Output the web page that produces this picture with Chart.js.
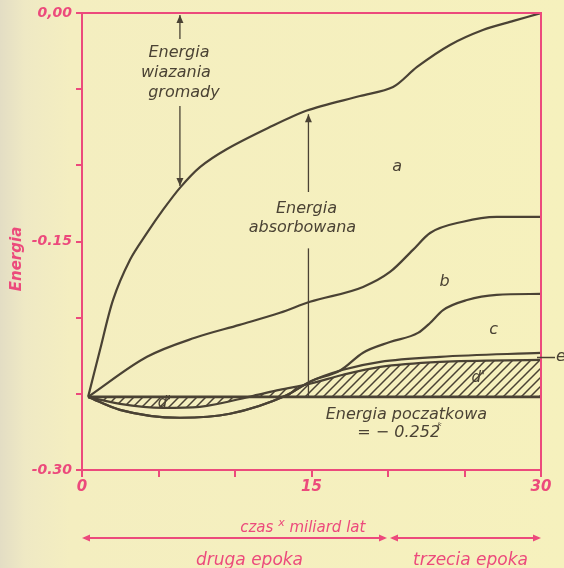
<!DOCTYPE html>
<html>
<head>
<meta charset="utf-8">
<script src="https://cdn.jsdelivr.net/npm/chart.js@4.4.1/dist/chart.umd.min.js"></script>
<style>
  html, body { margin: 0; padding: 0; }
  body {
    width: 564px; height: 568px; overflow: hidden;
    background: linear-gradient(to right, #e3ddc4 0px, #efe9c4 25px, #f4eec0 70px, #f6f1bd 100%);
  }
  #wrap { position: relative; width: 564px; height: 568px; }
</style>
</head>
<body>
<div id="wrap"><canvas id="chart" width="564" height="568"></canvas></div>
<script>
// Wartości (czas w mld lat, energia)
const timeA = [0.4, 1.18, 2.03, 3.14, 4.25, 5.29, 6.4, 7.71, 9.48, 12.16, 14.7, 18.17, 20.33, 21.9, 24.05, 26.2, 28.2, 30];
const energyA = [-0.252, -0.2211, -0.1883, -0.162, -0.1444, -0.1293, -0.1148, -0.1012, -0.0893, -0.0755, -0.0640, -0.0545, -0.0486, -0.0354, -0.021, -0.0112, -0.0052, 0];

const timeB = [0.4, 4.25, 7.38, 10.3, 12.94, 14.9, 18.37, 20.13, 21.63, 22.75, 24.9, 27.1, 30];
const energyB = [-0.252, -0.2257, -0.2132, -0.2047, -0.1968, -0.1896, -0.1798, -0.170, -0.1555, -0.1444, -0.137, -0.1339, -0.1339];

const timeC = [0.4, 2.48, 6.4, 9.67, 13.3, 14.9, 16.9, 18.37, 20.13, 21.96, 22.75, 23.6, 25.16, 27.1, 30];
const energyC = [-0.252, -0.2605, -0.2657, -0.2631, -0.2513, -0.242, -0.2345, -0.223, -0.216, -0.210, -0.2035, -0.195, -0.1884, -0.185, -0.1844];

const timeD = [0.4, 2.48, 5.3, 7.7, 11.2, 12.9, 14.9, 17.06, 19.5, 23.4, 30];
const energyD = [-0.252, -0.2566, -0.2592, -0.2585, -0.2513, -0.2474, -0.2434, -0.2375, -0.2323, -0.229, -0.2277];

const timeE = [0.4, 2.48, 6.4, 9.67, 13.3, 14.9, 17.06, 19.5, 23.4, 30];
const energyE = [-0.252, -0.2605, -0.2657, -0.2631, -0.2513, -0.242, -0.2342, -0.229, -0.2257, -0.2231];

const timeBase = [0.4, 30];
const energyBase = [-0.252, -0.252];

const xTickValues = [0, 15, 30];
const xTickLabels = ['0', '15', '30'];
const yTickValues = [0, -0.15, -0.30];
const yTickLabels = ['0,00', '-0.15', '-0.30'];

const epochBounds = [0, 20, 30];
const epochNames = ['druga epoka', 'trzecia epoka'];

const PINK = '#ec4a7c';
const INK = '#4a4234';
const FONT = 'DejaVu Sans';

function toPoints(xs, ys) {
  return xs.map((x, i) => ({ x: x, y: ys[i] }));
}

function labelFor(values, labels, v) {
  const i = values.findIndex(t => Math.abs(t - v) < 1e-6);
  return i >= 0 ? labels[i] : '';
}

// kreskowanie obszaru d'
function makeHatch() {
  const n = 9;
  const c = document.createElement('canvas');
  c.width = n; c.height = n;
  const g = c.getContext('2d');
  g.strokeStyle = INK;
  g.lineWidth = 1.5;
  g.beginPath();
  g.moveTo(0, n); g.lineTo(n, 0);
  g.moveTo(-1, 1); g.lineTo(1, -1);
  g.moveTo(n - 1, n + 1); g.lineTo(n + 1, n - 1);
  g.stroke();
  return g.createPattern(c, 'repeat');
}

function arrowHead(ctx, x, y, dir, color) {
  const L = 8, W = 3.5;
  ctx.save();
  ctx.fillStyle = color;
  ctx.beginPath();
  ctx.moveTo(x, y);
  if (dir === 'up') { ctx.lineTo(x - W, y + L); ctx.lineTo(x + W, y + L); }
  if (dir === 'down') { ctx.lineTo(x - W, y - L); ctx.lineTo(x + W, y - L); }
  if (dir === 'left') { ctx.lineTo(x + L, y - W); ctx.lineTo(x + L, y + W); }
  if (dir === 'right') { ctx.lineTo(x - L, y - W); ctx.lineTo(x - L, y + W); }
  ctx.closePath();
  ctx.fill();
  ctx.restore();
}

function vline(ctx, x, y1, y2, color, w) {
  ctx.save();
  ctx.strokeStyle = color;
  ctx.lineWidth = w;
  ctx.beginPath();
  ctx.moveTo(x, y1);
  ctx.lineTo(x, y2);
  ctx.stroke();
  ctx.restore();
}

function text(ctx, str, x, y, size, color, align, weight) {
  ctx.save();
  ctx.font = 'italic ' + (weight || 'normal') + ' ' + size + 'px "' + FONT + '"';
  ctx.fillStyle = color;
  ctx.textAlign = align || 'center';
  ctx.textBaseline = 'middle';
  ctx.fillText(str, x, y);
  ctx.restore();
}

const annotations = {
  id: 'annotations',
  afterDatasetsDraw(chart) {
    const ctx = chart.ctx;
    const area = chart.chartArea;
    const xs = chart.scales.x, ys = chart.scales.y;
    const px = v => xs.getPixelForValue(v);
    const py = v => ys.getPixelForValue(v);

    // ramka wykresu
    ctx.save();
    ctx.strokeStyle = PINK;
    ctx.lineWidth = 2;
    ctx.beginPath();
    ctx.moveTo(area.left, area.top);
    ctx.lineTo(area.right, area.top);
    ctx.lineTo(area.right, area.bottom);
    ctx.stroke();
    ctx.restore();

    // strzałka: energia wiązania gromady
    const xw = px(6.4);
    vline(ctx, xw, py(0) + 2, py(0) + 26, INK, 1.3);
    vline(ctx, xw, py(0) + 93, py(-0.1148) - 2, INK, 1.3);
    arrowHead(ctx, xw, py(0) + 2, 'up', INK);
    arrowHead(ctx, xw, py(-0.1148) - 2, 'down', INK);
    text(ctx, 'Energia', xw - 1, 53, 16, INK);
    text(ctx, 'wiazania', xw - 4, 73, 16, INK);
    text(ctx, 'gromady', xw + 4, 93, 16, INK);

    // strzałka: energia absorbowana
    const xa = px(14.8);
    vline(ctx, xa, py(-0.0645) + 3, py(-0.1175), INK, 1.3);
    vline(ctx, xa, py(-0.1545), py(-0.252), INK, 1.3);
    arrowHead(ctx, xa, py(-0.0645) + 3, 'up', INK);
    text(ctx, 'Energia', xa - 2, 209, 16, INK);
    text(ctx, 'absorbowana', xa - 6, 228, 16, INK);

    // oznaczenia krzywych
    text(ctx, 'a', px(20.6), py(-0.101), 16, INK);
    text(ctx, 'b', px(23.7), py(-0.1765), 16, INK);
    text(ctx, 'c', px(26.9), py(-0.208), 16, INK);
    text(ctx, "d'", px(5.4), py(-0.256), 15, INK);
    text(ctx, "d'", px(25.9), py(-0.2396), 15, INK);
    ctx.save();
    ctx.strokeStyle = INK;
    ctx.lineWidth = 1.5;
    ctx.beginPath();
    ctx.moveTo(area.right - 4, py(-0.2255) + 1);
    ctx.lineTo(area.right + 14, py(-0.2255) + 1);
    ctx.stroke();
    ctx.restore();
    text(ctx, 'e', area.right + 15, py(-0.2255), 16, INK, 'left');

    text(ctx, 'Energia poczatkowa', px(21.2), py(-0.2635), 16, INK);
    text(ctx, '= \u2212 0.252', px(20.7), 433, 16, INK);
    text(ctx, '\u1d4f', px(23.4), 427, 11, INK);

    // oś pionowa - nazwa
    ctx.save();
    ctx.translate(17, 259);
    ctx.rotate(-Math.PI / 2);
    ctx.font = 'italic bold 15px "' + FONT + '"';
    ctx.fillStyle = PINK;
    ctx.textAlign = 'center';
    ctx.textBaseline = 'middle';
    ctx.fillText('Energia', 0, 0);
    ctx.restore();

    // oś pozioma - czas i epoki
    const yb = area.bottom;
    const tx = px(14.6);
    text(ctx, 'czas', tx - 32, yb + 58, 15, PINK, 'right');
    text(ctx, 'x', tx - 24, yb + 53, 11, PINK, 'center');
    text(ctx, 'miliard lat', tx - 16, yb + 58, 15, PINK, 'left');
    const ya = yb + 68;
    ctx.save();
    ctx.strokeStyle = PINK;
    ctx.lineWidth = 2;
    for (let i = 0; i < epochNames.length; i++) {
      const x1 = px(epochBounds[i]) + (i > 0 ? 2 : 0);
      const x2 = px(epochBounds[i + 1]) - (i < epochNames.length - 1 ? 1 : 0);
      ctx.beginPath();
      ctx.moveTo(x1 + 2, ya);
      ctx.lineTo(x2 - 2, ya);
      ctx.stroke();
      arrowHead(ctx, x1, ya, 'left', PINK);
      arrowHead(ctx, x2, ya, 'right', PINK);
      text(ctx, epochNames[i], (x1 + x2) / 2 + (i === 0 ? 15 : 5), yb + 91, 17, PINK);
    }
    ctx.restore();
  }
};

const lineStyle = {
  borderColor: INK,
  borderWidth: 2.2,
  pointRadius: 0,
  fill: false,
  cubicInterpolationMode: 'monotone'
};

const ctx = document.getElementById('chart').getContext('2d');
new Chart(ctx, {
  type: 'line',
  data: {
    datasets: [
      Object.assign({}, lineStyle, { label: 'a', data: toPoints(timeA, energyA), cubicInterpolationMode: 'default', tension: 0.3 }),
      Object.assign({ label: 'b', data: toPoints(timeB, energyB) }, lineStyle),
      Object.assign({ label: 'c', data: toPoints(timeC, energyC) }, lineStyle),
      Object.assign({}, lineStyle, { label: 'd', data: toPoints(timeD, energyD), fill: 5, backgroundColor: makeHatch() }),
      Object.assign({ label: 'e', data: toPoints(timeE, energyE) }, lineStyle),
      Object.assign({}, lineStyle, { label: 'poczatkowa', data: toPoints(timeBase, energyBase), borderWidth: 2.8, cubicInterpolationMode: 'default', tension: 0 })
    ]
  },
  options: {
    responsive: false,
    animation: false,
    layout: { padding: { left: 0, top: 13, right: 23, bottom: 60 } },
    plugins: { legend: { display: false }, tooltip: { enabled: false } },
    scales: {
      x: {
        type: 'linear',
        min: 0,
        max: 30,
        afterFit: s => { s.height = 38; },
        border: { color: PINK, width: 2 },
        grid: { drawOnChartArea: false, color: PINK, lineWidth: 2, tickLength: 7 },
        ticks: {
          stepSize: 5,
          autoSkip: false,
          maxRotation: 0,
          padding: 1,
          color: PINK,
          font: { family: FONT, size: 15, style: 'italic', weight: 'bold' },
          callback: v => labelFor(xTickValues, xTickLabels, v)
        }
      },
      y: {
        min: -0.30,
        max: 0,
        afterFit: s => { s.width = 82; },
        border: { color: PINK, width: 2 },
        grid: { drawOnChartArea: false, color: PINK, lineWidth: 2, tickLength: 6 },
        ticks: {
          stepSize: 0.05,
          autoSkip: false,
          padding: 4,
          color: PINK,
          font: { family: FONT, size: 14, style: 'italic', weight: 'bold' },
          callback: v => labelFor(yTickValues, yTickLabels, v)
        }
      }
    }
  },
  plugins: [annotations]
});
</script>
</body>
</html>
